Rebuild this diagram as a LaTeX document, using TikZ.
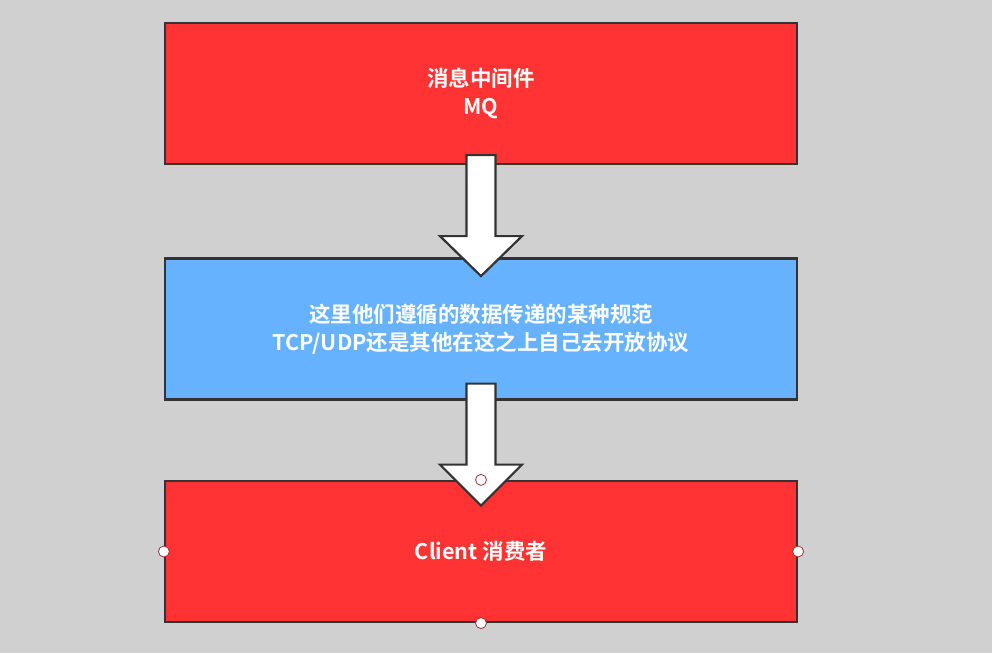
\documentclass[tikz,border=0pt]{standalone}
\usepackage{fontspec}
\newfontfamily\cjk{Noto Sans CJK SC}[BoldFont={Noto Sans CJK SC Bold}]
\usetikzlibrary{calc}
\definecolor{bgray}{HTML}{D0D0D0}
\definecolor{boxred}{HTML}{FF3333}
\definecolor{boxblue}{HTML}{66B2FF}
\definecolor{edge}{HTML}{333333}
\definecolor{handle}{HTML}{993333}
\tikzset{
  stage/.style={draw=edge, line width=2.2pt, minimum width=632pt, minimum height=141pt,
    inner sep=0pt, align=center, text=white,
    font=\cjk\bfseries\fontsize{21.5}{28}\selectfont},
  blockarrow/.style={draw=edge, fill=white, line width=2.2pt, line join=miter},
  grip/.style={circle, draw=handle, fill=white, line width=0.8pt, minimum size=11pt, inner sep=0pt}
}
\begin{document}
\begin{tikzpicture}[x=1pt,y=-1pt]
  \fill[bgray] (0,0) rectangle (992,653);
  \useasboundingbox (0,0) rectangle (992,653);

  \node[stage, fill=boxred] (mq) at (481,93.5) {\raisebox{-3pt}{消息中间件}\\\raisebox{-3pt}{MQ}};
  \node[stage, fill=boxblue] (proto) at (481,329) {\raisebox{-2pt}{这里他们遵循的数据传递的某种规范}\\\raisebox{-2pt}{TCP/UDP还是其他在这之上自己去开放协议}};
  \node[stage, fill=boxred] (client) at (481,551.5) {Client 消费者};

  % hollow block arrows between the stages
  \draw[blockarrow] ($(mq.south)+(-14.5,-10)$) -- ++(29,0) -- ++(0,81) -- ++(26.5,0)
    -- ++(-41,40) -- ++(-41,-40) -- ++(26.5,0) -- cycle;
  \draw[blockarrow] ($(proto.south)+(-14.5,-17)$) -- ++(29,0) -- ++(0,81) -- ++(26.5,0)
    -- ++(-41,41) -- ++(-41,-41) -- ++(26.5,0) -- cycle;

  % selection grips on the client box
  \node[grip] (gn) at (client.north) {};
  \node[grip] (gw) at (client.west) {};
  \node[grip] (ge) at (client.east) {};
  \node[grip] (gs) at (client.south) {};
\end{tikzpicture}
\end{document}
